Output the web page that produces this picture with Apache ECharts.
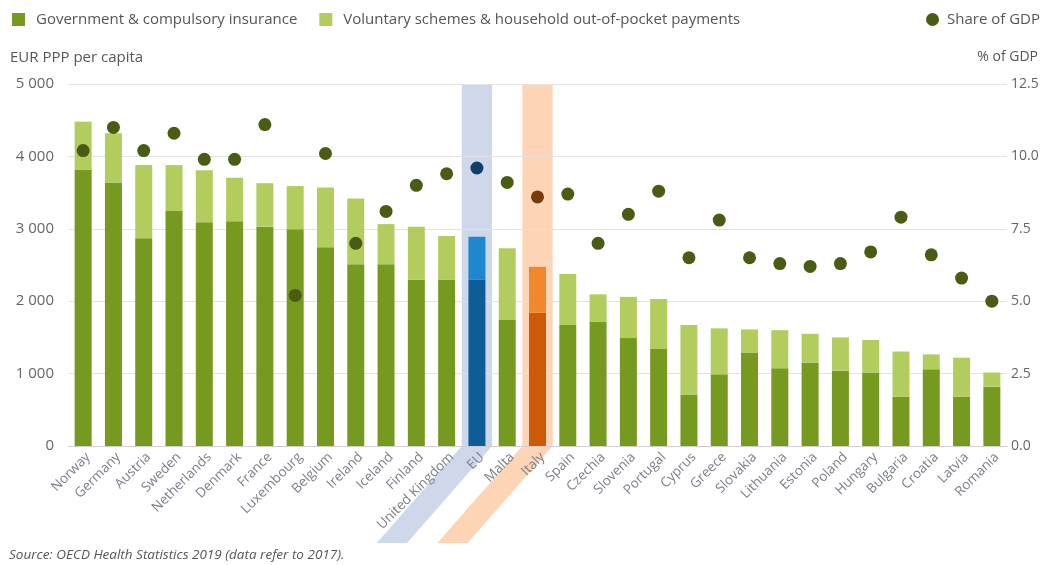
<!DOCTYPE html>
<html>
<head>
<meta charset="utf-8">
<script src="https://cdn.jsdelivr.net/npm/echarts@6/dist/echarts.min.js"></script>
<style>
  html, body { margin: 0; padding: 0; background: #ffffff; }
  #chart { width: 1046px; height: 565px; }
</style>
</head>
<body>
<div id="chart"></div>
<script>
const CATEGORIES = ['Norway','Germany','Austria','Sweden','Netherlands','Denmark','France','Luxembourg','Belgium','Ireland','Iceland','Finland','United Kingdom','EU','Malta','Italy','Spain','Czechia','Slovenia','Portugal','Cyprus','Greece','Slovakia','Lithuania','Estonia','Poland','Hungary','Bulgaria','Croatia','Latvia','Romania'];
// Government & compulsory insurance (EUR PPP per capita)
const GOV = [3820,3640,2870,3245,3090,3105,3030,2995,2745,2510,2510,2295,2295,2295,1740,1840,1670,1715,1490,1340,710,990,1290,1075,1155,1040,1015,680,1060,680,820];
// Total health expenditure per capita (EUR PPP)
const TOTAL = [4480,4320,3880,3880,3810,3705,3630,3590,3570,3420,3065,3030,2900,2890,2730,2475,2375,2095,2060,2030,1670,1625,1610,1600,1550,1500,1465,1305,1265,1220,1015];
// Share of GDP (%)
const GDP = [10.2,11.0,10.2,10.8,9.9,9.9,11.1,5.2,10.1,7.0,8.1,9.0,9.4,9.6,9.1,8.6,8.7,7.0,8.0,8.8,6.5,7.8,6.5,6.3,6.2,6.3,6.7,7.9,6.6,5.8,5.0];
const LEFT_TICKS = [0,1000,2000,3000,4000,5000];
const RIGHT_TICKS = [0,2.5,5,7.5,10,12.5];

const VOL = TOTAL.map((t,i)=>t-GOV[i]);

const C = {
  gov: '#76991f', vol: '#b3cc5e', dot: '#4a5c14',
  euGov: '#0e5c98', euVol: '#1f87cd', euDot: '#0f3f68',
  itGov: '#cc5a06', itVol: '#f0882e', itDot: '#7a3a08',
  euBand: '#cfd8eb', itBand: '#fdd5b6'
};
const FONT = '"Open Sans", "Noto Sans", sans-serif';

function styled(values, kind) {
  return values.map((v,i) => {
    const c = CATEGORIES[i];
    if (c === 'EU') return {value: v, itemStyle: {color: C['eu'+kind]}};
    if (c === 'Italy') return {value: v, itemStyle: {color: C['it'+kind]}};
    return v;
  });
}

const chart = echarts.init(document.getElementById('chart'), null, {renderer: 'canvas'});
const option = {
  animation: false,
  textStyle: {fontFamily: FONT},
  title: [
    {text: 'EUR PPP per capita', left: 5, top: 45, textStyle: {fontSize: 15, fontWeight: 'normal', color: '#555', fontFamily: FONT}},
    {text: '% of GDP', right: 3, top: 45, textStyle: {fontSize: 14, fontWeight: 'normal', color: '#555', fontFamily: FONT}},
    {text: 'Source: OECD Health Statistics 2019 (data refer to 2017).', left: 4, top: 543, textStyle: {fontSize: 13.5, fontWeight: 'normal', fontStyle: 'italic', color: '#555', fontFamily: FONT}}
  ],
  legend: [
    {data: ['Government & compulsory insurance', 'Voluntary schemes & household out-of-pocket payments'],
     left: 7, top: 7, itemWidth: 13, itemHeight: 13, itemGap: 22, icon: 'rect',
     textStyle: {fontSize: 15, color: '#555', fontFamily: FONT, padding: [0, 0, 0, 6]}},
    {data: ['Share of GDP'], right: 1, top: 7, itemWidth: 13, itemHeight: 13, icon: 'circle',
     textStyle: {fontSize: 15, color: '#555', fontFamily: FONT, padding: [0, 0, 0, 3]}}
  ],
  grid: {left: 68, right: 39, top: 84, bottom: 119, containLabel: false},
  xAxis: {
    type: 'category', data: CATEGORIES,
    axisLine: {lineStyle: {color: '#cfcfcf'}},
    axisTick: {show: false},
    axisLabel: {rotate: 45, interval: 0, fontSize: 13.5, color: '#7b7f8c', margin: 4, verticalAlign: 'top', fontFamily: FONT}
  },
  yAxis: [
    {type: 'value', min: 0, max: 5000, interval: 1000,
     axisLine: {show: false}, axisTick: {show: false},
     splitLine: {lineStyle: {color: '#e2e2e2'}},
     axisLabel: {fontSize: 15, color: '#666', margin: 14, fontFamily: FONT,
       formatter: v => LEFT_TICKS.includes(v) ? String(v).replace(/\B(?=(\d{3})+(?!\d))/g, ' ') : ''}},
    {type: 'value', min: 0, max: 12.5, interval: 2.5,
     axisLine: {show: false}, axisTick: {show: false}, splitLine: {show: false},
     axisLabel: {fontSize: 14, color: '#666', margin: 4, fontFamily: FONT,
       formatter: v => RIGHT_TICKS.includes(v) ? v.toFixed(1) : ''}}
  ],
  series: [
    {name: 'Government & compulsory insurance', type: 'bar', stack: 'a', barWidth: 17,
     itemStyle: {color: C.gov}, data: styled(GOV, 'Gov'), z: 3},
    {name: 'Voluntary schemes & household out-of-pocket payments', type: 'bar', stack: 'a', barWidth: 17,
     itemStyle: {color: C.vol}, data: styled(VOL, 'Vol'), z: 3},
    {name: 'Share of GDP', type: 'scatter', yAxisIndex: 1, symbolSize: 13,
     itemStyle: {color: C.dot, opacity: 1}, data: styled(GDP, 'Dot'), z: 5}
  ]
};
chart.setOption(option);

// Highlight bands for EU and Italy, positioned from the axes' scales
function band(cat, fill) {
  const i = CATEGORIES.indexOf(cat);
  const cx = chart.convertToPixel({xAxisIndex: 0}, i);
  const step = chart.convertToPixel({xAxisIndex: 0}, 1) - chart.convertToPixel({xAxisIndex: 0}, 0);
  const h = step / 2;
  const top = chart.convertToPixel({yAxisIndex: 0}, 5000);
  const base = chart.convertToPixel({yAxisIndex: 0}, 0);
  const drop = 97, shift = 85;
  return {
    type: 'polygon', z: -10, silent: true,
    shape: {points: [[cx-h, top], [cx+h, top], [cx+h, base], [cx+h-shift, base+drop], [cx-h-shift, base+drop], [cx-h, base]]},
    style: {fill: fill}
  };
}
chart.setOption({graphic: [band('EU', C.euBand), band('Italy', C.itBand)]});
</script>
</body>
</html>
